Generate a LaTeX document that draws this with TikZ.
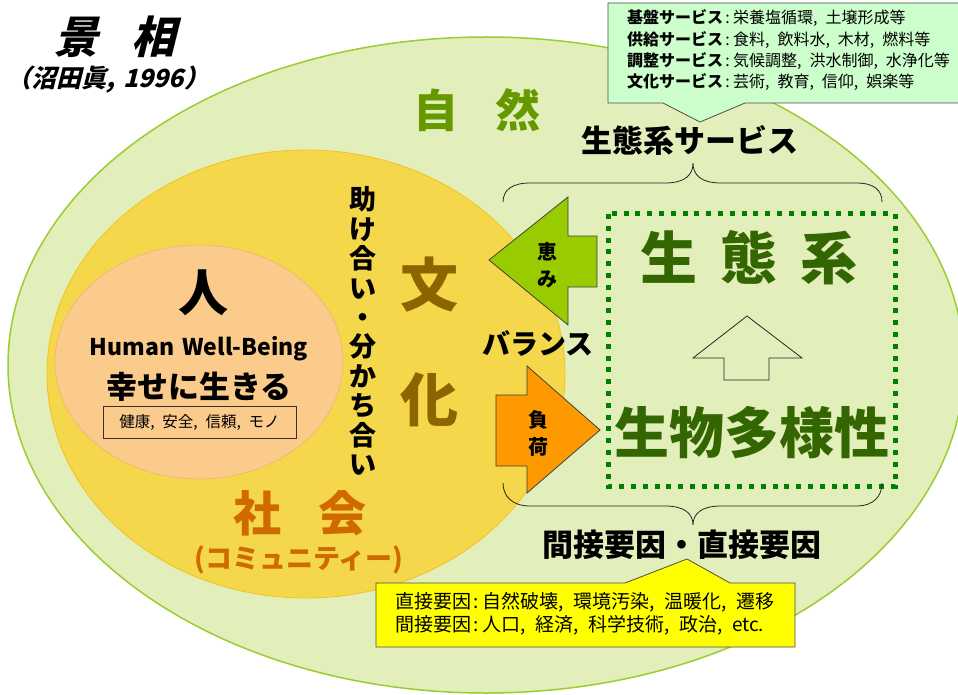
\documentclass[tikz,border=0pt]{standalone}
\usepackage{fontspec}
\setmainfont{Noto Sans CJK JP}
\newfontfamily\jpsl{Noto Sans CJK JP}[FakeSlant=0.25]
\definecolor{natfill}{HTML}{E2EFBB}
\definecolor{natline}{HTML}{9ACD32}
\definecolor{socfill}{HTML}{F4D74A}
\definecolor{socline}{HTML}{F2C21E}
\definecolor{humfill}{HTML}{FBCB8B}
\definecolor{humline}{HTML}{F2B878}
\definecolor{ecogreen}{HTML}{336600}
\definecolor{natgreen}{HTML}{669900}
\definecolor{socorange}{HTML}{D06A00}
\definecolor{culbrown}{HTML}{8C6400}
\definecolor{dotgreen}{HTML}{008000}
\definecolor{svcfill}{HTML}{CCFFCC}
\definecolor{benefit}{HTML}{99CC00}
\definecolor{load}{HTML}{FF9900}
\definecolor{callyellow}{HTML}{FFFF00}
\newcommand\fsz[1]{\fontsize{#1}{#1}\selectfont}
\newcommand\cm{,\hspace{0.5em}}
\newcommand\cl{\hspace{0.15em}:\hspace{0.2em}}
\begin{document}
\begin{tikzpicture}[x=1pt,y=-1pt,
  txt/.style={inner sep=0pt,outer sep=0pt},
  calltext/.style={txt,anchor=west},
  arrowshape/.style={draw=black!75,line width=0.8pt},
  bracepath/.style={draw=black!85,line width=0.8pt}]
\useasboundingbox (0,0) rectangle (958,695);
\fill[white] (0,0) rectangle (958,695);
% nature
\draw[natline,fill=natfill,line width=1.5pt] (486,365) ellipse [x radius=478,y radius=328];
% society
\draw[socline,fill=socfill,line width=0.8pt] (306,374) ellipse [x radius=259,y radius=224];
% human
\draw[humline,fill=humfill,line width=0.8pt] (199,362) ellipse [x radius=144,y radius=117];

% title
\node[txt] (title) at (115,37) {\jpsl\bfseries\fsz{44}景\hspace{34pt}相};
\node[txt] (cite) at (108,80) {\jpsl\bfseries\fsz{25}（沼田眞,\hspace{0.3em}1996）};

% nature label
\node[txt,text=natgreen] (nature) at (477,110) {\bfseries\fsz{45}自\hspace{38pt}然};

% human
\node[txt] (hito) at (203,293) {\bfseries\fsz{50}人};
\node[txt] (hwb) at (199,349) {\bfseries\fsz{23}Human\hspace{8pt}Well-Being};
\node[txt] (happy) at (199,387) {\bfseries\fsz{31}幸せに生きる};
\node[draw=black!80,line width=0.8pt,minimum width=193pt,minimum height=32pt,inner sep=0pt] (hbox) at (199.5,422) {\fsz{15.5}健康\cm 安全\cm 信頼\cm モノ};

% culture
\node[txt,align=center,font={\bfseries\fontsize{27}{29.4}\selectfont}] (help) at (363,331) {助\\け\\合\\い\\・\\分\\か\\ち\\合\\い};
\node[txt,text=culbrown] (bun) at (429,285) {\bfseries\fsz{58}文};
\node[txt,text=culbrown] (ka) at (429,400) {\bfseries\fsz{58}化};

% society
\node[txt,text=socorange] (sha) at (300,513) {\bfseries\fsz{48}社\hspace{38pt}会};
\node[txt,text=socorange] (comm) at (299,560) {\bfseries\fsz{27}(コミュニティー)};

% ecosystem box
\draw[dotgreen,line width=5pt,dash pattern=on 5pt off 6.8pt] (608,214) rectangle (895,486);
\node[txt,text=ecogreen] (eco) at (749,258) {\bfseries\fsz{57}生\hspace{23pt}態\hspace{23pt}系};
\node[txt,text=ecogreen] (bio) at (752,433) {\bfseries\fsz{55}生物多様性};
\draw[draw=black!85,line width=0.8pt] (747,316) -- (802,358) -- (769,358) -- (769,380) -- (724,380) -- (724,358) -- (693,358) -- cycle;

% benefit arrow
\draw[arrowshape,fill=benefit] (489,260) -- (568,197) -- (568,236) -- (597,236) -- (597,287) -- (568,287) -- (568,325) -- cycle;
\node[txt,align=center,font={\bfseries\fontsize{20}{27}\selectfont}] (megumi) at (547,265) {恵\\み};
% load arrow
\draw[arrowshape,fill=load] (496,395) -- (527,395) -- (527,366) -- (600,430) -- (527,493) -- (527,466) -- (496,466) -- cycle;
\node[txt,align=center,font={\bfseries\fontsize{20}{27}\selectfont}] (fuka) at (538,433) {負\\荷};
\node[txt] (balance) at (538,343) {\bfseries\fsz{28}バランス};

% braces
\draw[bracepath] (503,202) .. controls (503,190) and (512,183) .. (530,183) -- (665,183) .. controls (685,183) and (693,175) .. (693,163) .. controls (693,175) and (701,183) .. (721,183) -- (856,183) .. controls (874,183) and (882,190) .. (882,202);
\draw[bracepath] (503,483) .. controls (503,496) and (512,506) .. (530,506) -- (665,506) .. controls (685,506) and (693,514) .. (693,525) .. controls (693,514) and (701,506) .. (721,506) -- (856,506) .. controls (874,506) and (882,496) .. (882,483);
\node[txt] (svc) at (690,140) {\bfseries\fsz{31}生態系サービス};
\node[txt] (factors) at (682,545) {\bfseries\fsz{31}間接要因・直接要因};

% service callout
\draw[draw=black!70,line width=0.8pt,fill=svcfill] (608,3) -- (962,3) -- (962,103) -- (745,103) -- (700,122) -- (663,103) -- (608,103) -- cycle;
\node[calltext] (s1) at (627,18) {\fsz{16}\textbf{基盤サービス}\cl 栄養塩循環\cm 土壌形成等};
\node[calltext] (s2) at (627,40) {\fsz{16}\textbf{供給サービス}\cl 食料\cm 飲料水\cm 木材\cm 燃料等};
\node[calltext] (s3) at (627,61) {\fsz{16}\textbf{調整サービス}\cl 気候調整\cm 洪水制御\cm 水浄化等};
\node[calltext] (s4) at (627,82) {\fsz{16}\textbf{文化サービス}\cl 芸術\cm 教育\cm 信仰\cm 娯楽等};

% factor callout
\draw[draw=black!70,line width=0.8pt,fill=callyellow] (376,583) -- (625,583) -- (687,559) -- (730,583) -- (795,583) -- (795,647) -- (376,647) -- cycle;
\node[calltext] (f1) at (395,602) {\fsz{19}直接要因\cl 自然破壊\cm 環境汚染\cm 温暖化\cm 遷移};
\node[calltext] (f2) at (395,625) {\fsz{19}間接要因\cl 人口\cm 経済\cm 科学技術\cm 政治\cm etc.};
\end{tikzpicture}
\end{document}
